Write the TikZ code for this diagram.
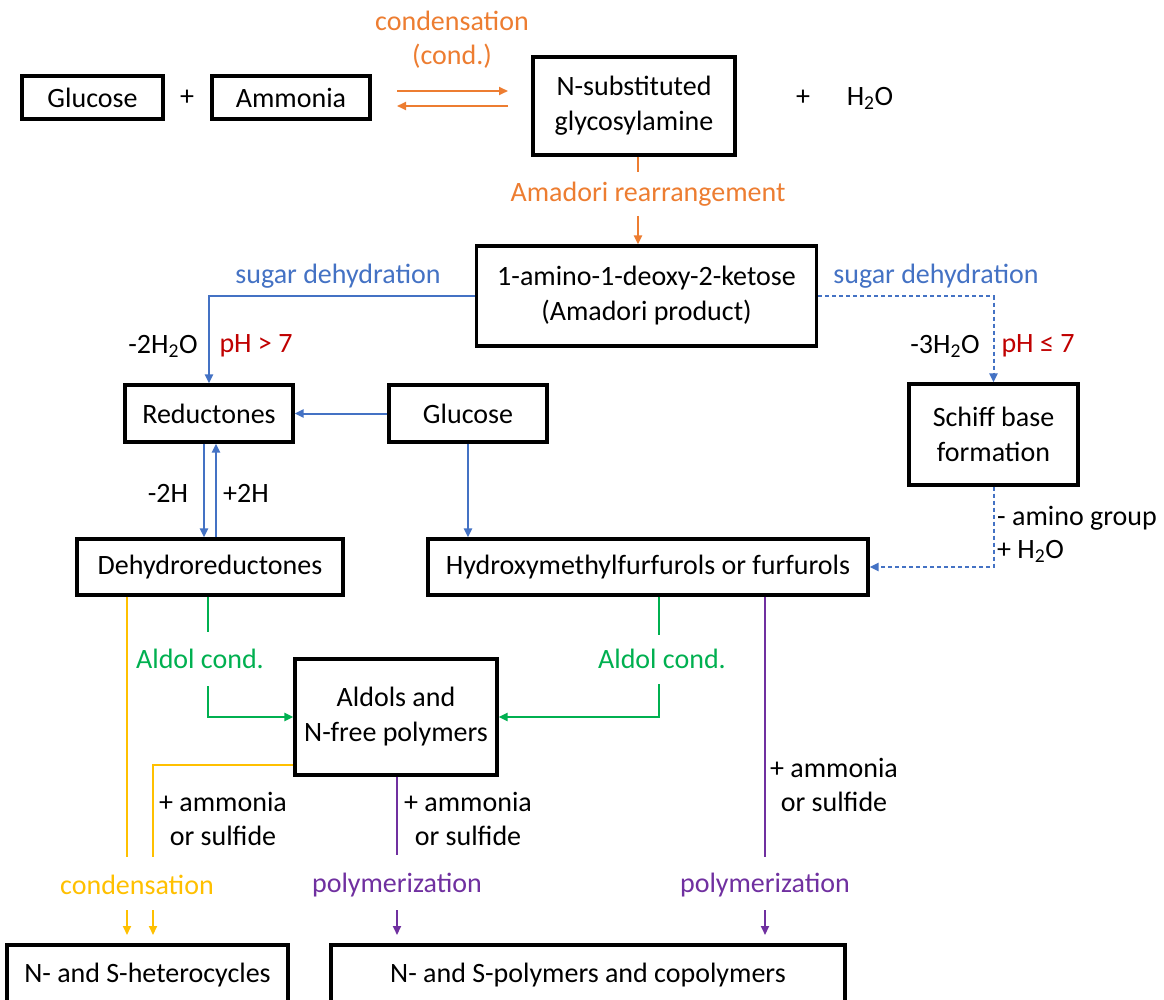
\documentclass[tikz,border=0pt]{standalone}
\usepackage{fontspec}
\setmainfont{Carlito}
\usetikzlibrary{arrows.meta,calc}
\definecolor{corange}{HTML}{ED7D31}
\definecolor{cblue}{HTML}{4472C4}
\definecolor{cred}{HTML}{C00000}
\definecolor{cgreen}{HTML}{00B050}
\definecolor{cyellow}{HTML}{FFC000}
\definecolor{cpurple}{HTML}{7030A0}
\begin{document}
\begin{tikzpicture}[x=1pt,y=-1pt,
 box/.style={draw=black,line width=3.2pt,inner sep=0pt,align=center,font=\fontsize{28}{35}\selectfont},
 lbl/.style={inner sep=0pt,align=center,font=\fontsize{28}{34}\selectfont},
 conn/.style={line width=2pt},
 tip/.style={-{Triangle[length=9pt,width=8pt]}}]
\useasboundingbox (0,0) rectangle (1164,1000);
\clip (0,0) rectangle (1164,1000);
\fill[white] (0,0) rectangle (1164,1000);
% boxes
\node[box,minimum width=141pt,minimum height=43pt] (glu) at (92.5,97.5) {Glucose};
\node[box,minimum width=158pt,minimum height=43pt] (amm) at (291,97.5) {Ammonia};
\node[box,minimum width=202pt,minimum height=98pt] (nsub) at (634,106) {N-substituted\\glycosylamine};
\node[box,minimum width=340pt,minimum height=100pt] (amad) at (646.5,296) {1-amino-1-deoxy-2-ketose\\(Amadori product)};
\node[box,minimum width=168pt,minimum height=57pt] (red) at (209,413.5) {Reductones};
\node[box,minimum width=158pt,minimum height=57pt] (glu2) at (468,413.5) {Glucose};
\node[box,minimum width=169pt,minimum height=101pt] (schiff) at (993.5,434.5) {Schiff base\\formation};
\node[box,minimum width=266pt,minimum height=56pt] (dehy) at (210,567) {Dehydroreductones};
\node[box,minimum width=440pt,minimum height=56pt] (hyd) at (648,567) {Hydroxymethylfurfurols or furfurols};
\node[box,minimum width=202pt,minimum height=116pt] (ald) at (396,717) {Aldols and\\N-free polymers};
\node[box,minimum width=281pt,minimum height=60pt] (het) at (147.5,975) {N- and S-heterocycles};
\node[box,minimum width=514pt,minimum height=60pt] (poly) at (588,975) {N- and S-polymers and copolymers};
% plain labels
\node[lbl] (plus1) at (187,98) {+};
\node[lbl] (plus2) at (803,98) {+};
\node[lbl] (water) at (870,98) {H\textsubscript{2}O};
\node[lbl,text=corange] (condlbl) at (452,40) {condensation\\(cond.)};
\node[lbl,text=corange] (amlbl) at (648,194) {Amadori rearrangement};
\node[lbl,text=cblue] (sd1) at (338,276) {sugar dehydration};
\node[lbl,text=cblue] (sd2) at (936,276) {sugar dehydration};
\node[lbl] (w2) at (163,346) {-2H\textsubscript{2}O};
\node[lbl,text=cred] (ph1) at (256,346) {pH > 7};
\node[lbl] (w3) at (945,346) {-3H\textsubscript{2}O};
\node[lbl,text=cred] (ph2) at (1038,346) {pH ≤ 7};
\node[lbl] (m2h) at (168,493) {-2H};
\node[lbl] (p2h) at (246,493) {+2H};
\node[lbl,anchor=west] (amg) at (997,518) {- amino group};
\node[lbl,anchor=west] (ph2o) at (997,551) {+ H\textsubscript{2}O};
\node[lbl,text=cgreen] (ac1) at (200,659) {Aldol cond.};
\node[lbl,text=cgreen] (ac2) at (662,659) {Aldol cond.};
\node[lbl] (as1) at (223,819) {+ ammonia\\or sulfide};
\node[lbl] (as2) at (468,819) {+ ammonia\\or sulfide};
\node[lbl] (as3) at (834,785) {+ ammonia\\or sulfide};
\node[lbl,text=cyellow] (cond2) at (137,885) {condensation};
\node[lbl,text=cpurple] (pol1) at (397,885) {polymerization};
\node[lbl,text=cpurple] (pol2) at (765,885) {polymerization};
% coordinates
\coordinate (a1) at (397,91);
\coordinate (a2) at (508,91);
\coordinate (b1) at (397,106);
\coordinate (b2) at (508,106);
\coordinate (ar1) at (638,172);
\coordinate (ar2) at (638,216);
\coordinate (y1) at (127,857);
\coordinate (y2) at (153,857);
\coordinate (g1) at (208,632);
\coordinate (g2) at (208,686);
\coordinate (g3) at (659,635);
\coordinate (g4) at (659,684);
\coordinate (p1) at (397,855);
\coordinate (p2) at (765,857);
\coordinate (ya) at (127,910);
\coordinate (yb) at (153,910);
\coordinate (pa) at (397,910);
\coordinate (pb) at (765,910);
% orange
\draw[conn,corange,tip] (a1) -- (a2);
\draw[conn,corange,tip] (b2) -- (b1);
\draw[conn,corange] (ar1 |- nsub.south) -- (ar1);
\draw[conn,corange,tip] (ar2) -- (ar2 |- amad.north);
% blue
\draw[conn,cblue,tip] (amad.west) -| (red.north);
\draw[conn,cblue,tip,dash pattern=on 4pt off 3pt] (amad.east) -| (schiff.north);
\draw[conn,cblue,tip] (glu2.west) -- (red.east);
\draw[conn,cblue,tip] (glu2.south) -- (glu2.south |- hyd.north);
\draw[conn,cblue,tip] ([xshift=-5pt]red.south) -- ([xshift=-5pt]red.south |- dehy.north);
\draw[conn,cblue,tip] ([xshift=7pt]red.south |- dehy.north) -- ([xshift=7pt]red.south);
\draw[conn,cblue,tip,dash pattern=on 4pt off 3pt] (schiff.south) |- (hyd.east);
% green
\draw[conn,cgreen] (g1 |- dehy.south) -- (g1);
\draw[conn,cgreen,tip] (g2) |- (ald.west);
\draw[conn,cgreen] (g3 |- hyd.south) -- (g3);
\draw[conn,cgreen,tip] (g4) |- (ald.east);
% yellow
\draw[conn,cyellow] (y1 |- dehy.south) -- (y1);
\draw[conn,cyellow] ($(ald.south west)+(0,-12)$) -| (y2);
\draw[conn,cyellow,tip] (ya) -- ++(0,25);
\draw[conn,cyellow,tip] (yb) -- ++(0,25);
% purple
\draw[conn,cpurple] (p1 |- ald.south) -- (p1);
\draw[conn,cpurple] (p2 |- hyd.south) -- (p2);
\draw[conn,cpurple,tip] (pa) -- ++(0,25);
\draw[conn,cpurple,tip] (pb) -- ++(0,25);
\end{tikzpicture}
\end{document}
